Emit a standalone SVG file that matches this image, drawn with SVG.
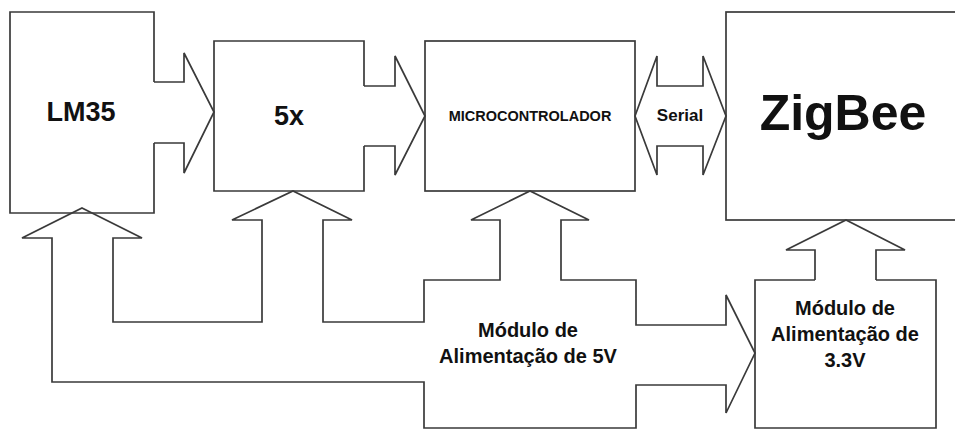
<svg xmlns="http://www.w3.org/2000/svg" width="955" height="430" viewBox="0 0 955 430">
<style>
.ln{fill:none;stroke:#3a3a3a;stroke-width:1.7;stroke-linejoin:miter}
.t{font-family:"Liberation Sans",Arial,sans-serif;font-weight:bold;fill:#111;text-anchor:middle}
</style>
<rect width="955" height="430" fill="#fff"/>
<g id="lm35">
<path class="ln" d="M154,82 V12 H10 V213 H154 V143"/>
<text class="t" x="81" y="121" font-size="27">LM35</text>
</g>
<g id="amp5x">
<path class="ln" d="M364,86 V41 H214 V191 H364 V146"/>
<text class="t" x="289" y="125" font-size="27">5x</text>
</g>
<g id="micro">
<rect class="ln" x="425" y="41" width="210" height="150"/>
<text class="t" x="530" y="121" font-size="14.5">MICROCONTROLADOR</text>
</g>
<g id="zigbee">
<rect class="ln" x="726" y="12" width="250" height="208"/>
<text class="t" x="843" y="130" font-size="50">ZigBee</text>
</g>
<g id="psu33">
<path class="ln" d="M815,280 H755 V428 H936 V280 H876"/>
<text class="t" x="845" y="315" font-size="20">Módulo de</text>
<text class="t" x="845" y="341" font-size="20">Alimentação de</text>
<text class="t" x="845" y="367" font-size="20">3.3V</text>
</g>
<g id="psu5">
<path class="ln" d="M82,208 L142,238 H113 V322 H262 V220 H232 L293,191 L352,220 H323 V322 H424 V280 H500 V220 H471 L530,191 L589,220 H561 V280 H636 V325 H726 V295 L755,353 L726,413 V385 H636 V428 H424 V382 H52 V238 H22 Z"/>
<text class="t" x="528" y="337" font-size="20">Módulo de</text>
<text class="t" x="528" y="363" font-size="20">Alimentação de 5V</text>
</g>
<g id="connectors">
<path class="ln" d="M154,82 H184 V53 L214,112 L184,173 V143 H154"/>
<path class="ln" d="M364,86 H395 V56 L425,116 L395,175 V146 H364"/>
<path class="ln" d="M635,116 L657,56 V86 H703 V56 L726,116 L703,175 V146 H657 V175 Z"/>
<text class="t" x="680" y="121" font-size="17">Serial</text>
<path class="ln" d="M815,280 V250 H786 L846,220 L905,250 H876 V280"/>
</g>
</svg>
